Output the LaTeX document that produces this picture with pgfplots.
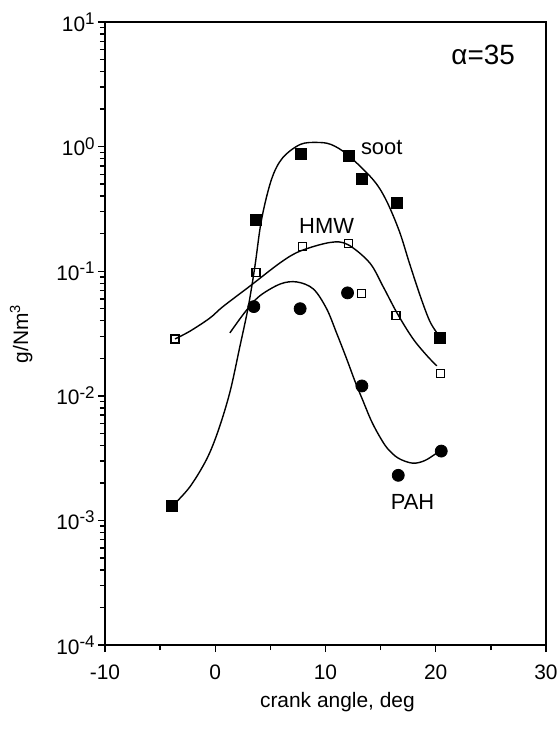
\documentclass[border=0pt]{standalone}
\usepackage{fontspec}
\setmainfont{Liberation Sans}
\usepackage{pgfplots}
\pgfplotsset{compat=1.18}
\newcommand{\tenp}[1]{10\raisebox{0.6ex}{\fontsize{8.5}{9}\selectfont#1}}
\begin{document}
\fontsize{10.5}{12}\selectfont
\begin{tikzpicture}
\begin{axis}[
  name=ax, at={(0,0)}, anchor=south west,
  scale only axis, width=220.5bp, height=311.5bp,
  xmin=-10, xmax=30, ymin=1e-4, ymax=10, ymode=log,
  xtick={-10,0,10,20,30}, xticklabels={-10,0,10,20,30},
  minor x tick num=1,
  ytick={1e-4,1e-3,1e-2,1e-1,1,10},
  yticklabels={\tenp{-4},\tenp{-3},\tenp{-2},\tenp{-1},\tenp{0},\tenp{1}},
  minor ytick={2e-4,3e-4,4e-4,5e-4,6e-4,7e-4,8e-4,9e-4,
               2e-3,3e-3,4e-3,5e-3,6e-3,7e-3,8e-3,9e-3,
               2e-2,3e-2,4e-2,5e-2,6e-2,7e-2,8e-2,9e-2,
               2e-1,3e-1,4e-1,5e-1,6e-1,7e-1,8e-1,9e-1,
               2,3,4,5,6,7,8,9},
  tick align=outside, xtick pos=left, ytick pos=left,
  major tick length=3.5bp, minor tick length=2.5bp,
  axis line style={line width=1bp},
  every tick/.style={black, line width=0.7bp},
  xticklabel style={yshift=-3bp},
  yticklabel style={xshift=2bp},
  xlabel={crank angle, deg},
  ylabel={g/Nm\textsuperscript{3}},
  xlabel style={at={(axis description cs:0.527,-0.0915)}, anchor=center},
  ylabel style={at={(axis description cs:-0.19,0.5)}, anchor=center},
  clip=false,
]
% fitted curves
\addplot[black, line width=0.7bp, smooth, tension=0.55] coordinates {
  (-3.9,1.3e-3) (-2.3,1.86e-3) (-0.78,3.1e-3) (0.27,5.25e-3) (1.33,0.0107)
  (2.24,0.025) (3.0,0.052) (3.6,0.11) (4.2,0.26) (5.1,0.545) (6.1,0.81)
  (7.7,1.04) (9.2,1.08) (10.5,1.04) (12.0,0.86) (14.3,0.545) (15.5,0.372)
  (16.7,0.209) (17.6,0.117) (18.6,0.063) (19.5,0.039) (20.4,0.0295)
};
\addplot[black, line width=0.7bp, smooth, tension=0.55] coordinates {
  (-3.65,0.0286) (-2.3,0.033) (-0.5,0.042) (0.7,0.052) (3.15,0.076)
  (5.9,0.117) (7.7,0.145) (10.4,0.17) (12.0,0.164) (14.0,0.117)
  (15.2,0.076) (16.5,0.046) (17.9,0.029) (19.2,0.021) (20.1,0.0174)
};
\addplot[black, line width=0.7bp, smooth, tension=0.55] coordinates {
  (1.33,0.032) (2.7,0.047) (4.0,0.063) (5.9,0.079) (7.4,0.082) (8.9,0.072)
  (10.1,0.050) (11.0,0.032) (11.9,0.020) (12.7,0.0129) (13.4,0.00912)
  (14.1,0.00646) (14.8,0.0049) (15.6,0.0038) (16.6,0.00316) (17.9,0.00288)
  (19.0,0.00302) (20.1,0.00347) (20.5,0.00363)
};
% measured points
\addplot[only marks, mark=square*, mark size=2.75bp, black] coordinates {
  (-3.9,1.3e-3) (3.7,0.26) (7.8,0.88) (12.1,0.85) (13.3,0.55) (16.5,0.355) (20.4,0.029)
};
\addplot[only marks, mark=square, mark size=2bp, black, mark options={fill=white, line width=0.6bp}] coordinates {
  (-3.65,0.0286) (3.7,0.098) (7.9,0.158) (12.1,0.166) (13.3,0.066) (16.4,0.044) (20.4,0.015)
};
\addplot[only marks, mark=*, mark size=3bp, black] coordinates {
  (3.5,0.052) (7.7,0.050) (12.0,0.067) (13.3,0.012) (16.6,0.0023) (20.5,0.0036)
};
\node[font=\fontsize{11}{12}\selectfont] at (axis cs:15.1,0.98) {soot};
\node[font=\fontsize{11}{12}\selectfont] at (axis cs:10.1,0.23) {HMW};
\node[font=\fontsize{11}{12}\selectfont] at (axis cs:17.9,1.4e-3) {PAH};
\node[font=\fontsize{14}{16}\selectfont] at (axis cs:24.3,5.45) {α=35};
\end{axis}
\pgfresetboundingbox
\useasboundingbox ([shift={(-52.5bp,-42bp)}]ax.south west) rectangle ([shift={(6.5bp,11bp)}]ax.north east);
\end{tikzpicture}
\end{document}
